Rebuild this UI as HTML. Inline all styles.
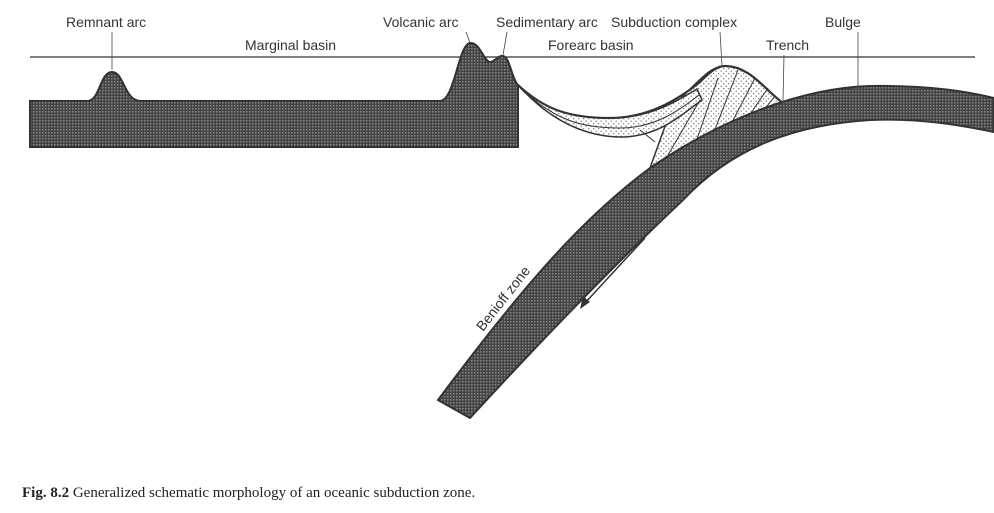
<!DOCTYPE html>
<html><head><meta charset="utf-8"><style>
body{margin:0;background:#fff;width:994px;height:513px;overflow:hidden}
svg{display:block}
text{font-family:"Liberation Sans",sans-serif;font-size:14px;fill:#333}
</style></head><body>
<svg width="994" height="513" viewBox="0 0 994 513">
<defs>
<pattern id="dk" width="3" height="3" patternUnits="userSpaceOnUse">
<rect width="3" height="3" fill="#444"/><rect width="1.5" height="1.5" fill="#888"/>
</pattern>
<pattern id="dt" width="5" height="5" patternUnits="userSpaceOnUse">
<rect width="5" height="5" fill="#fff"/><circle cx="1.2" cy="1.2" r="0.7" fill="#777"/><circle cx="3.7" cy="3.7" r="0.7" fill="#777"/>
</pattern>
</defs>
<line x1="30" y1="57" x2="975" y2="57" stroke="#333" stroke-width="1.2"/>
<path d="M30,101 L88,101 C100,100 100,72 112,72 C124,72 124,100 140,101 L440,101 C455,100 458,45 470,43 C480,42 484,62 490,62 C495,62 498,55 503,56 C510,57 512,80 518,85 L518,147 L30,147 Z" fill="url(#dk)" stroke="#333" stroke-width="2"/>
<!-- subduction complex -->
<path d="M650,168 L672,107 C700,80 710,66 725,66 C750,66 765,90 783,103 C740,120 700,135 650,168 Z" fill="url(#dt)" stroke="#333" stroke-width="1.5"/>
<!-- forearc basin -->
<path d="M518,85 C545,110 570,118 610,118 C650,118 675,102 697,89 L702,100 C680,116 660,135 625,137 C580,138 545,115 518,85 Z" fill="url(#dt)" stroke="#333" stroke-width="1.5"/>
<path d="M520,88 C555,120 580,128 620,128 C655,128 680,110 699,95" fill="none" stroke="#333" stroke-width="1"/>
<path d="M518,85 C545,110 570,118 610,118 C650,118 680,98 700,82 C712,70 718,66 725,66 C750,66 765,90 783,103" fill="none" stroke="#333" stroke-width="2.2"/>
<g stroke="#333" stroke-width="1" fill="none">
<line x1="668" y1="155" x2="700" y2="100"/>
<line x1="695" y1="145" x2="718" y2="78"/><line x1="712" y1="137" x2="738" y2="70"/>
<line x1="728" y1="130" x2="755" y2="78"/><line x1="745" y1="122" x2="768" y2="88"/>
<line x1="760" y1="115" x2="775" y2="96"/><line x1="640" y1="130" x2="655" y2="142"/>
</g>
<path d="M438,400 C520,290 580,220 650,168 C720,120 800,88 870,86 C930,85 970,92 994,98 L994,132 C960,125 920,118 870,120 C790,125 730,150 683,200 C630,250 560,320 470,418 Z" fill="url(#dk)" stroke="#333" stroke-width="2"/>
<line x1="645" y1="238" x2="584" y2="304" stroke="#333" stroke-width="1.5"/>
<path d="M580,309 L583,296 L590,302 Z" fill="#333"/>
<text transform="translate(483,332) rotate(-52)">Benioff zone</text>
<text x="66" y="27">Remnant arc</text>
<text x="245" y="50">Marginal basin</text>
<text x="383" y="27">Volcanic arc</text>
<text x="496" y="27">Sedimentary arc</text>
<text x="548" y="50">Forearc basin</text>
<text x="611" y="27">Subduction complex</text>
<text x="766" y="50">Trench</text>
<text x="825" y="27">Bulge</text>
<g stroke="#444" stroke-width="0.8">
<line x1="112" y1="32" x2="112" y2="70"/>
<line x1="466" y1="32" x2="470" y2="43"/>
<line x1="507" y1="32" x2="503" y2="55"/>
<line x1="720" y1="32" x2="722" y2="65"/>
<line x1="784" y1="55" x2="783" y2="102"/>
<line x1="858" y1="32" x2="858" y2="86"/>
</g>
<text x="22" y="497" style="font-family:'Liberation Serif',serif;font-size:15px;fill:#222"><tspan font-weight="bold">Fig. 8.2</tspan>  Generalized schematic morphology of an oceanic subduction zone.</text>
</svg>
</body></html>
